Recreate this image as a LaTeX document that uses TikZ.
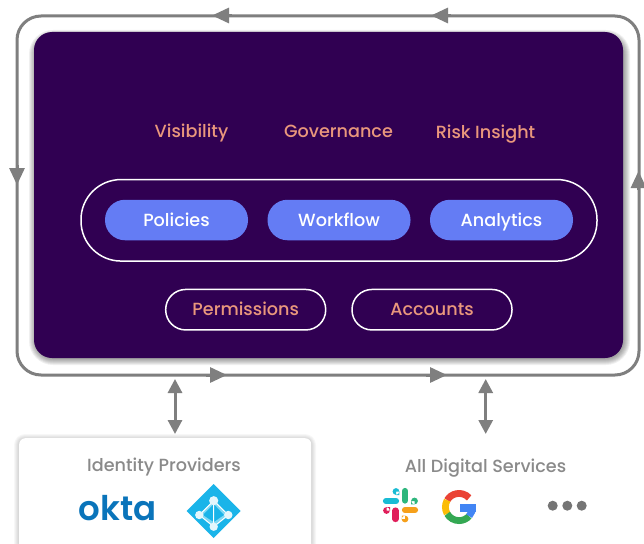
\documentclass[tikz,border=0pt]{standalone}
\usepackage{fontspec}
\setmainfont{Poppins}[UprightFont=* Medium,BoldFont=* SemiBold]
\usetikzlibrary{arrows.meta}
\definecolor{panelpurple}{HTML}{300052}
\definecolor{pillblue}{HTML}{647CF4}
\definecolor{salmon}{HTML}{E9977C}
\definecolor{loopgrey}{HTML}{7F7F7F}
\definecolor{labelgrey}{HTML}{8A8A8A}
\definecolor{oktablue}{HTML}{0A74BA}
\definecolor{azure}{HTML}{1AB4E9}
\definecolor{azurelight}{HTML}{7FD9F5}
\definecolor{dotsgrey}{HTML}{757575}
\tikzset{
  loopline/.style={draw=loopgrey,line width=3pt},
  flowtip/.style={draw=loopgrey,line width=3pt,-{Triangle[length=17pt,width=15pt,color=loopgrey]}},
  biarrow/.style={draw=loopgrey,line width=3pt,{Triangle[length=14pt,width=14pt,color=loopgrey]}-{Triangle[length=14pt,width=14pt,color=loopgrey]}},
  boxtext/.style={font=\fontsize{17.6}{20}\selectfont,text height=12.5pt,text depth=0pt,inner sep=0pt},
  headtext/.style={boxtext,text=salmon},
  pill/.style={boxtext,fill=pillblue,rounded corners=20pt,text=white,minimum width=143pt,minimum height=40.5pt},
  outlinepill/.style={boxtext,draw=white,line width=1.5pt,rounded corners=20pt,text=salmon,minimum width=160pt,minimum height=40.5pt},
  greylabel/.style={boxtext,text=labelgrey},
  slackbar/.style={line width=6.2pt,line cap=round},
  gring/.style={line width=6.8pt}
}
\begin{document}
\begin{tikzpicture}[x=1pt,y=-1pt]
\useasboundingbox (0,0) rectangle (644,543);
\fill[white] (0,0) rectangle (644,543);
% outer loop
\draw[loopline,rounded corners=24pt] (17,16) rectangle (639,375);
\coordinate (t1s) at (232,15.5); \coordinate (t1e) at (212,15.5);
\coordinate (t2s) at (451,15.5); \coordinate (t2e) at (431,15.5);
\coordinate (b1s) at (206,375); \coordinate (b1e) at (227,375);
\coordinate (b2s) at (426,375); \coordinate (b2e) at (447,375);
\coordinate (ls) at (17,165); \coordinate (le) at (17,185);
\coordinate (rs) at (638.5,190); \coordinate (re) at (638.5,171);
\foreach \a/\b in {t1s/t1e,t2s/t2e,b1s/b1e,b2s/b2e,ls/le,rs/re}
  \draw[flowtip] (\a) -- (\b);
% panel shadow
\foreach \g in {6,5,4,3,2,1,0}
  \fill[black,opacity=0.06,rounded corners={18pt+\g pt}] (35-\g,34-\g+2) rectangle (624+\g,357+\g+2);
\node[fill=panelpurple,rounded corners=18pt,minimum width=589pt,minimum height=326pt,inner sep=0pt] (panel) at (328.5,195) {};
% headings
\node[headtext] (vis) at (191.5,131) {Visibility};
\node[headtext] (gov) at (338.5,131) {Governance};
\node[headtext] (risk) at (485.5,132) {Risk Insight};
% capsule
\node[draw=white,line width=1.5pt,rounded corners=40pt,minimum width=516pt,minimum height=81.5pt,inner sep=0pt] (cap) at (339,220.3) {};
\node[pill] (pol) at (176.5,220) {Policies};
\node[pill] (wf) at (339,220) {Workflow};
\node[pill] (ana) at (501.5,220) {Analytics};
\node[outlinepill] (perm) at (245.7,309.7) {Permissions};
\node[outlinepill] (acc) at (432,309.7) {Accounts};
% identity box
\begin{scope}
\clip (0,420) rectangle (644,543);
\foreach \g in {5,4,3,2,1}
  \fill[black,opacity=0.03,rounded corners={6pt+\g pt}] (19-\g,438-\g+1) rectangle (311+\g,560);
\node[fill=white,rounded corners=6pt,minimum width=292pt,minimum height=122pt,inner sep=0pt,anchor=north west] (idbox) at (19,438) {};
\end{scope}
\node[greylabel] (idl) at (164,465.5) {Identity Providers};
\node[greylabel] (ads) at (485.5,466.5) {All Digital Services};
% connectors
\coordinate (a1t) at (175,379); \coordinate (a1b) at (175,434);
\coordinate (a2t) at (485.7,379); \coordinate (a2b) at (485.7,434);
\draw[biarrow] (a1t) -- (a1b);
\draw[biarrow] (a2t) -- (a2b);
% okta
\node[text=oktablue,font=\fontsize{34}{40}\selectfont\bfseries,inner sep=0pt] (okta) at (117.5,508) {okta};
% azure
\fill[azure] (213.7,484) -- (240.7,511) -- (213.7,538) -- (186.7,511) -- cycle;
\fill[azurelight] (213.7,500) -- (228.3,515) -- (213.7,527) -- (199.3,515) -- cycle;
\fill[azure] (213.7,504) -- (224,515) -- (213.7,522) -- (203,515) -- cycle;
\draw[white,line width=1pt] (213.7,500.7) -- (199.3,515) -- (213.7,526.7) -- (228.3,515) -- cycle (213.7,500.7) -- (213.7,526.7);
\foreach \p/\r in {{213.7,500.7}/4.6,{199.3,515}/4.2,{228.3,515}/4.2,{213.7,526.7}/4.2}
  \fill[white!88!azure] (\p) circle[radius=\r];
% slack
\definecolor{slackcyan}{HTML}{19BBD4}
\definecolor{slackgreen}{HTML}{2EB67D}
\definecolor{slackred}{HTML}{E01E5A}
\definecolor{slackyellow}{HTML}{F6A01A}
\draw[slackbar,slackcyan] (386,501) -- (396,501);
\fill[slackcyan] (396,491.5) circle[radius=3.4] (396,491.5) rectangle (399.3,495);
\draw[slackbar,slackgreen] (405,491) -- (405,500.5);
\fill[slackgreen] (414.5,501) circle[radius=3.4] (411,501) rectangle (414.5,504.3);
\draw[slackbar,slackred] (395.5,510.5) -- (395.5,519);
\fill[slackred] (386.5,510.5) circle[radius=3.4] (386.5,507) rectangle (390,510.5);
\draw[slackbar,slackyellow] (405,510) -- (415,510);
\fill[slackyellow] (405,519) circle[radius=3.4] (401.8,515.5) rectangle (405,519);
% google
\definecolor{gred}{HTML}{EA4335}
\definecolor{gyellow}{HTML}{FBBC05}
\definecolor{ggreen}{HTML}{34A853}
\definecolor{gblue}{HTML}{4285F4}
\draw[gring,gred] (459,507) ++(-42:13.6) arc[start angle=-42,end angle=-150,radius=13.6];
\draw[gring,gyellow] (459,507) ++(-150:13.6) arc[start angle=-150,end angle=-210,radius=13.6];
\draw[gring,ggreen] (459,507) ++(-210:13.6) arc[start angle=-210,end angle=-318,radius=13.6];
\draw[gring,gblue] (459,507) ++(-318:13.6) arc[start angle=-318,end angle=-360,radius=13.6];
\fill[gblue] (459.5,503.8) rectangle (476,512);
% dots
\fill[dotsgrey] (552.7,505.7) circle[radius=5] (567.3,505.7) circle[radius=5] (581.7,505.7) circle[radius=5];
\end{tikzpicture}
\end{document}
